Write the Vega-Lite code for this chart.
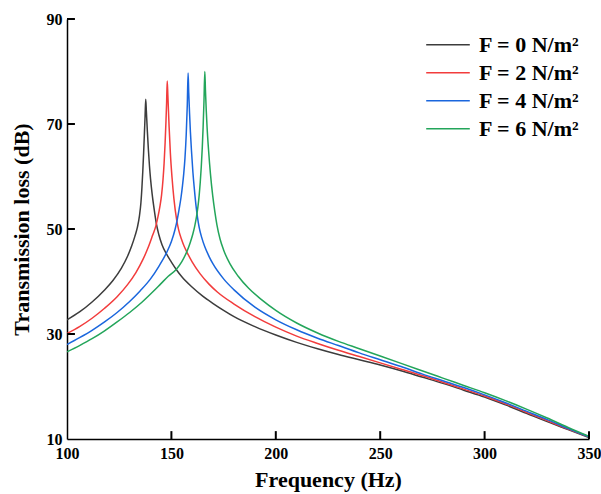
{
  "$schema": "https://vega.github.io/schema/vega-lite/v6.json",
  "width": 522,
  "height": 420,
  "autosize": {"type": "none"},
  "padding": {"left": 67, "top": 19, "right": 12, "bottom": 55},
  "background": "white",
  "config": {
    "view": {"stroke": null},
    "font": "Liberation Serif",
    "axis": {
      "domainColor": "black", "domainWidth": 1.5,
      "ticks": false,
      "labelFont": "Liberation Serif", "labelFontSize": 16, "labelFontWeight": "bold", "labelColor": "black",
      "titleFont": "Liberation Serif", "titleFontSize": 22, "titleFontWeight": "bold", "titleColor": "black",
      "grid": false, "labelOverlap": false, "labelFlush": false
    }
  },
  "datasets": {
    "tl": [
      {"f":100,"tl":32.7,"s":"F = 0 N/m²"},{"f":106,"tl":34.2,"s":"F = 0 N/m²"},{"f":112,"tl":36.1,"s":"F = 0 N/m²"},{"f":118,"tl":38.4,"s":"F = 0 N/m²"},{"f":122,"tl":40.2,"s":"F = 0 N/m²"},{"f":126,"tl":42.5,"s":"F = 0 N/m²"},{"f":129,"tl":44.8,"s":"F = 0 N/m²"},{"f":131,"tl":46.8,"s":"F = 0 N/m²"},{"f":132.5,"tl":48.6,"s":"F = 0 N/m²"},{"f":133.7,"tl":50.3,"s":"F = 0 N/m²"},{"f":134.7,"tl":52.5,"s":"F = 0 N/m²"},{"f":135.4,"tl":55.0,"s":"F = 0 N/m²"},{"f":135.9,"tl":58.0,"s":"F = 0 N/m²"},{"f":136.3,"tl":61.0,"s":"F = 0 N/m²"},{"f":136.7,"tl":64.5,"s":"F = 0 N/m²"},{"f":137.1,"tl":68.5,"s":"F = 0 N/m²"},{"f":137.4,"tl":71.5,"s":"F = 0 N/m²"},{"f":137.7,"tl":74.7,"s":"F = 0 N/m²"},{"f":138.0,"tl":72.5,"s":"F = 0 N/m²"},{"f":138.5,"tl":68.5,"s":"F = 0 N/m²"},{"f":139.0,"tl":65.0,"s":"F = 0 N/m²"},{"f":139.5,"tl":62.0,"s":"F = 0 N/m²"},{"f":140.0,"tl":59.6,"s":"F = 0 N/m²"},{"f":140.8,"tl":56.6,"s":"F = 0 N/m²"},{"f":141.8,"tl":53.6,"s":"F = 0 N/m²"},{"f":142.8,"tl":51.0,"s":"F = 0 N/m²"},{"f":144,"tl":48.9,"s":"F = 0 N/m²"},{"f":145.5,"tl":47.0,"s":"F = 0 N/m²"},{"f":147.7,"tl":45.2,"s":"F = 0 N/m²"},{"f":150,"tl":43.7,"s":"F = 0 N/m²"},{"f":152.5,"tl":42.2,"s":"F = 0 N/m²"},{"f":155,"tl":40.9,"s":"F = 0 N/m²"},{"f":160,"tl":38.9,"s":"F = 0 N/m²"},{"f":165,"tl":37.2,"s":"F = 0 N/m²"},{"f":170,"tl":35.8,"s":"F = 0 N/m²"},{"f":175,"tl":34.5,"s":"F = 0 N/m²"},{"f":180,"tl":33.3,"s":"F = 0 N/m²"},{"f":190,"tl":31.4,"s":"F = 0 N/m²"},{"f":200,"tl":29.8,"s":"F = 0 N/m²"},{"f":210,"tl":28.4,"s":"F = 0 N/m²"},{"f":220,"tl":27.2,"s":"F = 0 N/m²"},{"f":230,"tl":26.1,"s":"F = 0 N/m²"},{"f":240,"tl":25.1,"s":"F = 0 N/m²"},{"f":250,"tl":24.1,"s":"F = 0 N/m²"},{"f":260,"tl":23.0,"s":"F = 0 N/m²"},{"f":270,"tl":21.8,"s":"F = 0 N/m²"},{"f":280,"tl":20.6,"s":"F = 0 N/m²"},{"f":290,"tl":19.3,"s":"F = 0 N/m²"},{"f":300,"tl":18.0,"s":"F = 0 N/m²"},{"f":310,"tl":16.5,"s":"F = 0 N/m²"},{"f":320,"tl":14.9,"s":"F = 0 N/m²"},{"f":330,"tl":13.3,"s":"F = 0 N/m²"},{"f":340,"tl":11.8,"s":"F = 0 N/m²"},{"f":350,"tl":10.3,"s":"F = 0 N/m²"},

      {"f":100,"tl":30.1,"s":"F = 2 N/m²"},{"f":106,"tl":31.4,"s":"F = 2 N/m²"},{"f":112,"tl":33.0,"s":"F = 2 N/m²"},{"f":118,"tl":34.9,"s":"F = 2 N/m²"},{"f":124,"tl":37.1,"s":"F = 2 N/m²"},{"f":129,"tl":39.4,"s":"F = 2 N/m²"},{"f":133,"tl":41.7,"s":"F = 2 N/m²"},{"f":136.5,"tl":44.3,"s":"F = 2 N/m²"},{"f":139,"tl":46.6,"s":"F = 2 N/m²"},{"f":141,"tl":48.8,"s":"F = 2 N/m²"},{"f":142.5,"tl":50.5,"s":"F = 2 N/m²"},{"f":143.5,"tl":52.2,"s":"F = 2 N/m²"},{"f":144.5,"tl":54.3,"s":"F = 2 N/m²"},{"f":145.3,"tl":56.5,"s":"F = 2 N/m²"},{"f":146,"tl":59.5,"s":"F = 2 N/m²"},{"f":146.5,"tl":62.5,"s":"F = 2 N/m²"},{"f":147,"tl":66.5,"s":"F = 2 N/m²"},{"f":147.4,"tl":70.5,"s":"F = 2 N/m²"},{"f":147.7,"tl":74,"s":"F = 2 N/m²"},{"f":148,"tl":78.2,"s":"F = 2 N/m²"},{"f":148.3,"tl":75.5,"s":"F = 2 N/m²"},{"f":148.9,"tl":69.5,"s":"F = 2 N/m²"},{"f":149.5,"tl":64.5,"s":"F = 2 N/m²"},{"f":150.3,"tl":59.8,"s":"F = 2 N/m²"},{"f":151.2,"tl":55.8,"s":"F = 2 N/m²"},{"f":152.5,"tl":51.8,"s":"F = 2 N/m²"},{"f":153.5,"tl":49.8,"s":"F = 2 N/m²"},{"f":154.8,"tl":48.1,"s":"F = 2 N/m²"},{"f":156,"tl":46.8,"s":"F = 2 N/m²"},{"f":157.3,"tl":45.7,"s":"F = 2 N/m²"},{"f":160,"tl":43.7,"s":"F = 2 N/m²"},{"f":163.7,"tl":41.5,"s":"F = 2 N/m²"},{"f":168,"tl":39.5,"s":"F = 2 N/m²"},{"f":172,"tl":38.0,"s":"F = 2 N/m²"},{"f":180,"tl":35.7,"s":"F = 2 N/m²"},{"f":190,"tl":33.3,"s":"F = 2 N/m²"},{"f":200,"tl":31.3,"s":"F = 2 N/m²"},{"f":210,"tl":29.6,"s":"F = 2 N/m²"},{"f":220,"tl":28.2,"s":"F = 2 N/m²"},{"f":230,"tl":26.9,"s":"F = 2 N/m²"},{"f":240,"tl":25.7,"s":"F = 2 N/m²"},{"f":250,"tl":24.5,"s":"F = 2 N/m²"},{"f":260,"tl":23.3,"s":"F = 2 N/m²"},{"f":270,"tl":22.1,"s":"F = 2 N/m²"},{"f":280,"tl":20.8,"s":"F = 2 N/m²"},{"f":290,"tl":19.5,"s":"F = 2 N/m²"},{"f":300,"tl":18.2,"s":"F = 2 N/m²"},{"f":310,"tl":16.7,"s":"F = 2 N/m²"},{"f":320,"tl":15.1,"s":"F = 2 N/m²"},{"f":330,"tl":13.5,"s":"F = 2 N/m²"},{"f":340,"tl":11.9,"s":"F = 2 N/m²"},{"f":350,"tl":10.4,"s":"F = 2 N/m²"},

      {"f":100,"tl":28.0,"s":"F = 4 N/m²"},{"f":106,"tl":29.3,"s":"F = 4 N/m²"},{"f":112,"tl":30.7,"s":"F = 4 N/m²"},{"f":118,"tl":32.3,"s":"F = 4 N/m²"},{"f":124,"tl":34.1,"s":"F = 4 N/m²"},{"f":130,"tl":36.2,"s":"F = 4 N/m²"},{"f":135,"tl":38.2,"s":"F = 4 N/m²"},{"f":140,"tl":40.5,"s":"F = 4 N/m²"},{"f":144,"tl":42.9,"s":"F = 4 N/m²"},{"f":147.7,"tl":45.5,"s":"F = 4 N/m²"},{"f":150,"tl":47.6,"s":"F = 4 N/m²"},{"f":151.8,"tl":50.0,"s":"F = 4 N/m²"},{"f":152.8,"tl":51.8,"s":"F = 4 N/m²"},{"f":153.7,"tl":53.8,"s":"F = 4 N/m²"},{"f":154.6,"tl":56.0,"s":"F = 4 N/m²"},{"f":155.3,"tl":58.2,"s":"F = 4 N/m²"},{"f":155.9,"tl":60.5,"s":"F = 4 N/m²"},{"f":156.5,"tl":63.5,"s":"F = 4 N/m²"},{"f":157.1,"tl":68,"s":"F = 4 N/m²"},{"f":157.6,"tl":73.5,"s":"F = 4 N/m²"},{"f":158,"tl":79.7,"s":"F = 4 N/m²"},{"f":158.3,"tl":76,"s":"F = 4 N/m²"},{"f":158.7,"tl":72,"s":"F = 4 N/m²"},{"f":159.1,"tl":68.5,"s":"F = 4 N/m²"},{"f":159.6,"tl":65,"s":"F = 4 N/m²"},{"f":160.3,"tl":60.8,"s":"F = 4 N/m²"},{"f":161,"tl":57.6,"s":"F = 4 N/m²"},{"f":161.8,"tl":54.4,"s":"F = 4 N/m²"},{"f":162.5,"tl":52.2,"s":"F = 4 N/m²"},{"f":163.3,"tl":50.3,"s":"F = 4 N/m²"},{"f":164.5,"tl":48.4,"s":"F = 4 N/m²"},{"f":166,"tl":46.6,"s":"F = 4 N/m²"},{"f":168,"tl":44.8,"s":"F = 4 N/m²"},{"f":170,"tl":43.3,"s":"F = 4 N/m²"},{"f":175,"tl":40.5,"s":"F = 4 N/m²"},{"f":180,"tl":38.4,"s":"F = 4 N/m²"},{"f":190,"tl":35.1,"s":"F = 4 N/m²"},{"f":200,"tl":32.7,"s":"F = 4 N/m²"},{"f":210,"tl":30.8,"s":"F = 4 N/m²"},{"f":220,"tl":29.2,"s":"F = 4 N/m²"},{"f":230,"tl":27.8,"s":"F = 4 N/m²"},{"f":240,"tl":26.4,"s":"F = 4 N/m²"},{"f":250,"tl":25.1,"s":"F = 4 N/m²"},{"f":260,"tl":23.8,"s":"F = 4 N/m²"},{"f":270,"tl":22.4,"s":"F = 4 N/m²"},{"f":280,"tl":21.1,"s":"F = 4 N/m²"},{"f":290,"tl":19.8,"s":"F = 4 N/m²"},{"f":300,"tl":18.4,"s":"F = 4 N/m²"},{"f":310,"tl":16.9,"s":"F = 4 N/m²"},{"f":320,"tl":15.3,"s":"F = 4 N/m²"},{"f":330,"tl":13.7,"s":"F = 4 N/m²"},{"f":340,"tl":12.0,"s":"F = 4 N/m²"},{"f":350,"tl":10.4,"s":"F = 4 N/m²"},

      {"f":100,"tl":26.6,"s":"F = 6 N/m²"},{"f":106,"tl":27.8,"s":"F = 6 N/m²"},{"f":112,"tl":29.1,"s":"F = 6 N/m²"},{"f":118,"tl":30.6,"s":"F = 6 N/m²"},{"f":124,"tl":32.3,"s":"F = 6 N/m²"},{"f":130,"tl":34.1,"s":"F = 6 N/m²"},{"f":136,"tl":36.1,"s":"F = 6 N/m²"},{"f":141,"tl":38.0,"s":"F = 6 N/m²"},{"f":145,"tl":39.6,"s":"F = 6 N/m²"},{"f":148.5,"tl":41.0,"s":"F = 6 N/m²"},{"f":152.5,"tl":42.4,"s":"F = 6 N/m²"},{"f":155,"tl":43.8,"s":"F = 6 N/m²"},{"f":157.3,"tl":45.6,"s":"F = 6 N/m²"},{"f":159,"tl":47.4,"s":"F = 6 N/m²"},{"f":160.3,"tl":49.1,"s":"F = 6 N/m²"},{"f":161.2,"tl":50.6,"s":"F = 6 N/m²"},{"f":162,"tl":52.3,"s":"F = 6 N/m²"},{"f":162.7,"tl":54.2,"s":"F = 6 N/m²"},{"f":163.3,"tl":56.4,"s":"F = 6 N/m²"},{"f":163.8,"tl":58.8,"s":"F = 6 N/m²"},{"f":164.3,"tl":61.8,"s":"F = 6 N/m²"},{"f":164.8,"tl":65.6,"s":"F = 6 N/m²"},{"f":165.2,"tl":69.5,"s":"F = 6 N/m²"},{"f":165.6,"tl":74.3,"s":"F = 6 N/m²"},{"f":166,"tl":80,"s":"F = 6 N/m²"},{"f":166.3,"tl":76.5,"s":"F = 6 N/m²"},{"f":166.7,"tl":72.5,"s":"F = 6 N/m²"},{"f":167.1,"tl":69.3,"s":"F = 6 N/m²"},{"f":167.8,"tl":65,"s":"F = 6 N/m²"},{"f":168.7,"tl":60.5,"s":"F = 6 N/m²"},{"f":169.8,"tl":56.3,"s":"F = 6 N/m²"},{"f":170.8,"tl":53.3,"s":"F = 6 N/m²"},{"f":171.8,"tl":50.8,"s":"F = 6 N/m²"},{"f":173.3,"tl":48.1,"s":"F = 6 N/m²"},{"f":175,"tl":46.0,"s":"F = 6 N/m²"},{"f":178,"tl":43.4,"s":"F = 6 N/m²"},{"f":182,"tl":41.0,"s":"F = 6 N/m²"},{"f":187,"tl":38.7,"s":"F = 6 N/m²"},{"f":193,"tl":36.6,"s":"F = 6 N/m²"},{"f":200,"tl":34.5,"s":"F = 6 N/m²"},{"f":210,"tl":32.1,"s":"F = 6 N/m²"},{"f":220,"tl":30.2,"s":"F = 6 N/m²"},{"f":230,"tl":28.6,"s":"F = 6 N/m²"},{"f":240,"tl":27.2,"s":"F = 6 N/m²"},{"f":250,"tl":25.8,"s":"F = 6 N/m²"},{"f":260,"tl":24.4,"s":"F = 6 N/m²"},{"f":270,"tl":23.0,"s":"F = 6 N/m²"},{"f":280,"tl":21.6,"s":"F = 6 N/m²"},{"f":290,"tl":20.2,"s":"F = 6 N/m²"},{"f":300,"tl":18.8,"s":"F = 6 N/m²"},{"f":310,"tl":17.3,"s":"F = 6 N/m²"},{"f":320,"tl":15.7,"s":"F = 6 N/m²"},{"f":330,"tl":14.0,"s":"F = 6 N/m²"},{"f":340,"tl":12.2,"s":"F = 6 N/m²"},{"f":350,"tl":10.5,"s":"F = 6 N/m²"}
    ],
    "xticks": [{"f":150},{"f":200},{"f":250},{"f":300},{"f":350}],
    "yticks": [{"tl":30},{"tl":50},{"tl":70},{"tl":90}]
  },
  "layer": [
    {
      "data": {"name": "tl"},
      "mark": {"type": "line", "strokeWidth": 1.5, "interpolate": "monotone", "clip": true},
      "encoding": {
        "x": {
          "field": "f", "type": "quantitative",
          "scale": {"domain": [100, 350], "nice": false, "zero": false},
          "axis": {"values": [100, 150, 200, 250, 300, 350], "title": "Frequency (Hz)", "labelPadding": 6, "titlePadding": 8}
        },
        "y": {
          "field": "tl", "type": "quantitative",
          "scale": {"domain": [10, 90], "nice": false, "zero": false},
          "axis": {"values": [10, 30, 50, 70, 90], "title": "Transmission loss (dB)", "labelPadding": 5, "titlePadding": 13}
        },
        "color": {
          "field": "s", "type": "nominal",
          "scale": {
            "domain": ["F = 0 N/m²", "F = 2 N/m²", "F = 4 N/m²", "F = 6 N/m²"],
            "range": ["#3c3c3c", "#f23c3c", "#1a66dd", "#23a55a"]
          },
          "legend": {
            "orient": "none", "legendX": 358, "legendY": 12, "title": null,
            "symbolType": "stroke", "symbolSize": 1900, "symbolStrokeWidth": 1.5,
            "labelFont": "Liberation Serif", "labelFontSize": 22, "labelFontWeight": "bold", "labelColor": "black",
            "labelOffset": 8, "rowPadding": 0, "clipHeight": 27.5
          }
        }
      }
    },
    {
      "data": {"name": "xticks"},
      "mark": {"type": "rule", "strokeWidth": 2, "color": "black"},
      "encoding": {
        "x": {"field": "f", "type": "quantitative"},
        "y": {"datum": 10, "type": "quantitative"},
        "y2": {"datum": 11.5}
      }
    },
    {
      "data": {"name": "yticks"},
      "mark": {"type": "rule", "strokeWidth": 2, "color": "black"},
      "encoding": {
        "y": {"field": "tl", "type": "quantitative"},
        "x": {"datum": 100, "type": "quantitative"},
        "x2": {"datum": 103.8}
      }
    }
  ]
}
